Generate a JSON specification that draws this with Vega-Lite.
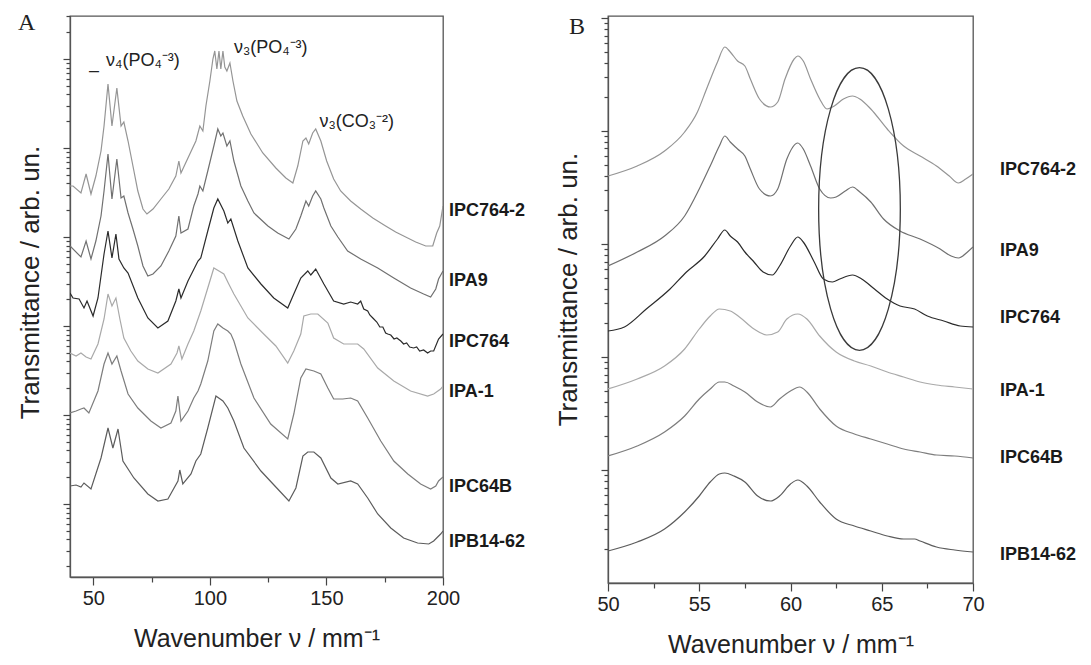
{
"$schema": "https://vega.github.io/schema/vega-lite/v6.json",
"padding": {"left": 16, "top": 10, "right": 5, "bottom": 5},
"spacing": 28,
"config": {
 "font": "Liberation Sans",
 "view": {"stroke": "#555", "strokeWidth": 1.3},
 "axis": {"grid": false, "domainColor": "#555", "domainWidth": 1.3, "tickColor": "#444", "tickWidth": 1.2, "labelColor": "#222", "labelFontSize": 20, "labelFont": "Liberation Sans", "titleColor": "#222", "titleFontSize": 25, "titleFontWeight": "normal", "titleFont": "Liberation Sans"},
 "text": {"color": "#222"}
},
"datasets": {
 "specA": [
{"s":"IPC764-2","w":40,"T":391},{"s":"IPC764-2","w":41.3,"T":391},{"s":"IPC764-2","w":44.7,"T":384},{"s":"IPC764-2","w":46.9,"T":403},{"s":"IPC764-2","w":49,"T":383},{"s":"IPC764-2","w":51.1,"T":401},{"s":"IPC764-2","w":53.3,"T":426},{"s":"IPC764-2","w":54.6,"T":451},{"s":"IPC764-2","w":56.3,"T":493},{"s":"IPC764-2","w":58,"T":451},{"s":"IPC764-2","w":60.1,"T":489},{"s":"IPC764-2","w":61.9,"T":451},{"s":"IPC764-2","w":63.1,"T":455},{"s":"IPC764-2","w":64.9,"T":436},{"s":"IPC764-2","w":67,"T":411},{"s":"IPC764-2","w":69.1,"T":386},{"s":"IPC764-2","w":71.3,"T":368},{"s":"IPC764-2","w":73,"T":363},{"s":"IPC764-2","w":75.6,"T":368},{"s":"IPC764-2","w":79,"T":378},{"s":"IPC764-2","w":82.4,"T":388},{"s":"IPC764-2","w":85.4,"T":401},{"s":"IPC764-2","w":86.7,"T":416},{"s":"IPC764-2","w":87.6,"T":404},{"s":"IPC764-2","w":91,"T":421},{"s":"IPC764-2","w":94,"T":436},{"s":"IPC764-2","w":95.7,"T":451},{"s":"IPC764-2","w":97,"T":446},{"s":"IPC764-2","w":98.3,"T":471},{"s":"IPC764-2","w":100,"T":496},{"s":"IPC764-2","w":101.3,"T":518},{"s":"IPC764-2","w":102.1,"T":526},{"s":"IPC764-2","w":103,"T":508},{"s":"IPC764-2","w":103.9,"T":526},{"s":"IPC764-2","w":104.7,"T":508},{"s":"IPC764-2","w":105.6,"T":526},{"s":"IPC764-2","w":106.4,"T":510},{"s":"IPC764-2","w":107.3,"T":506},{"s":"IPC764-2","w":108.6,"T":514},{"s":"IPC764-2","w":109.9,"T":496},{"s":"IPC764-2","w":111.6,"T":476},{"s":"IPC764-2","w":114.1,"T":461},{"s":"IPC764-2","w":117.6,"T":443},{"s":"IPC764-2","w":122.7,"T":424},{"s":"IPC764-2","w":128.3,"T":409},{"s":"IPC764-2","w":132.6,"T":399},{"s":"IPC764-2","w":135.6,"T":394},{"s":"IPC764-2","w":137.7,"T":411},{"s":"IPC764-2","w":139.9,"T":436},{"s":"IPC764-2","w":141.2,"T":439},{"s":"IPC764-2","w":142.4,"T":433},{"s":"IPC764-2","w":144.1,"T":444},{"s":"IPC764-2","w":145.4,"T":448},{"s":"IPC764-2","w":147.6,"T":436},{"s":"IPC764-2","w":150.1,"T":416},{"s":"IPC764-2","w":153.1,"T":398},{"s":"IPC764-2","w":156.1,"T":386},{"s":"IPC764-2","w":160.4,"T":376},{"s":"IPC764-2","w":164.7,"T":368},{"s":"IPC764-2","w":169.9,"T":359},{"s":"IPC764-2","w":175.4,"T":351},{"s":"IPC764-2","w":179.7,"T":345},{"s":"IPC764-2","w":184,"T":340},{"s":"IPC764-2","w":188.3,"T":335},{"s":"IPC764-2","w":192.6,"T":331},{"s":"IPC764-2","w":195.6,"T":331},{"s":"IPC764-2","w":197.3,"T":344},{"s":"IPC764-2","w":198.6,"T":351},{"s":"IPC764-2","w":200,"T":371},
{"s":"IPA9","w":40,"T":331},{"s":"IPA9","w":44.7,"T":320},{"s":"IPA9","w":46.9,"T":336},{"s":"IPA9","w":49,"T":318},{"s":"IPA9","w":51.1,"T":336},{"s":"IPA9","w":53.3,"T":361},{"s":"IPA9","w":54.6,"T":386},{"s":"IPA9","w":56.3,"T":423},{"s":"IPA9","w":58,"T":378},{"s":"IPA9","w":60.1,"T":418},{"s":"IPA9","w":61.9,"T":379},{"s":"IPA9","w":63.1,"T":381},{"s":"IPA9","w":64.9,"T":364},{"s":"IPA9","w":67,"T":348},{"s":"IPA9","w":69.1,"T":331},{"s":"IPA9","w":71.3,"T":311},{"s":"IPA9","w":73.4,"T":301},{"s":"IPA9","w":75.6,"T":303},{"s":"IPA9","w":79,"T":311},{"s":"IPA9","w":82.4,"T":326},{"s":"IPA9","w":85.4,"T":341},{"s":"IPA9","w":86.7,"T":361},{"s":"IPA9","w":87.6,"T":344},{"s":"IPA9","w":90.6,"T":348},{"s":"IPA9","w":93.1,"T":371},{"s":"IPA9","w":94.9,"T":383},{"s":"IPA9","w":95.7,"T":391},{"s":"IPA9","w":97,"T":386},{"s":"IPA9","w":99.1,"T":406},{"s":"IPA9","w":101.7,"T":431},{"s":"IPA9","w":103.4,"T":448},{"s":"IPA9","w":104.7,"T":441},{"s":"IPA9","w":105.6,"T":444},{"s":"IPA9","w":107.3,"T":431},{"s":"IPA9","w":108.6,"T":436},{"s":"IPA9","w":110.3,"T":416},{"s":"IPA9","w":113.3,"T":391},{"s":"IPA9","w":116.3,"T":376},{"s":"IPA9","w":118.9,"T":364},{"s":"IPA9","w":124.9,"T":351},{"s":"IPA9","w":129.1,"T":344},{"s":"IPA9","w":133.9,"T":338},{"s":"IPA9","w":136.9,"T":348},{"s":"IPA9","w":139,"T":361},{"s":"IPA9","w":141.2,"T":376},{"s":"IPA9","w":142.4,"T":371},{"s":"IPA9","w":144.1,"T":381},{"s":"IPA9","w":145.4,"T":386},{"s":"IPA9","w":147.6,"T":378},{"s":"IPA9","w":148.9,"T":369},{"s":"IPA9","w":151.9,"T":351},{"s":"IPA9","w":154.9,"T":340},{"s":"IPA9","w":159.1,"T":326},{"s":"IPA9","w":164.7,"T":318},{"s":"IPA9","w":172,"T":309},{"s":"IPA9","w":178.9,"T":299},{"s":"IPA9","w":186.1,"T":289},{"s":"IPA9","w":191.7,"T":283},{"s":"IPA9","w":194.7,"T":280},{"s":"IPA9","w":196.9,"T":288},{"s":"IPA9","w":198.1,"T":298},{"s":"IPA9","w":200,"T":306},
{"s":"IPC764","w":40,"T":284},{"s":"IPC764","w":41.3,"T":279},{"s":"IPC764","w":43.9,"T":278},{"s":"IPC764","w":46,"T":269},{"s":"IPC764","w":47.3,"T":276},{"s":"IPC764","w":49.9,"T":261},{"s":"IPC764","w":52,"T":279},{"s":"IPC764","w":54.6,"T":323},{"s":"IPC764","w":56.3,"T":346},{"s":"IPC764","w":58,"T":319},{"s":"IPC764","w":59.7,"T":343},{"s":"IPC764","w":61,"T":318},{"s":"IPC764","w":63.1,"T":309},{"s":"IPC764","w":64.9,"T":304},{"s":"IPC764","w":69.1,"T":279},{"s":"IPC764","w":73.4,"T":259},{"s":"IPC764","w":77.7,"T":249},{"s":"IPC764","w":82,"T":256},{"s":"IPC764","w":85.4,"T":276},{"s":"IPC764","w":86.7,"T":288},{"s":"IPC764","w":87.6,"T":279},{"s":"IPC764","w":90.6,"T":296},{"s":"IPC764","w":94.9,"T":316},{"s":"IPC764","w":96.1,"T":319},{"s":"IPC764","w":99.1,"T":346},{"s":"IPC764","w":101.7,"T":369},{"s":"IPC764","w":103.4,"T":378},{"s":"IPC764","w":106,"T":366},{"s":"IPC764","w":107.7,"T":354},{"s":"IPC764","w":109,"T":358},{"s":"IPC764","w":112,"T":336},{"s":"IPC764","w":116.3,"T":309},{"s":"IPC764","w":121.9,"T":293},{"s":"IPC764","w":127.4,"T":279},{"s":"IPC764","w":133.4,"T":269},{"s":"IPC764","w":136,"T":283},{"s":"IPC764","w":139,"T":299},{"s":"IPC764","w":142,"T":306},{"s":"IPC764","w":143.3,"T":302},{"s":"IPC764","w":145.4,"T":308},{"s":"IPC764","w":148.9,"T":293},{"s":"IPC764","w":153.1,"T":276},{"s":"IPC764","w":157.4,"T":273},{"s":"IPC764","w":160.4,"T":275},{"s":"IPC764","w":163.4,"T":273},{"s":"IPC764","w":164.7,"T":276},{"s":"IPC764","w":166,"T":268},{"s":"IPC764","w":167.7,"T":266},{"s":"IPC764","w":168.6,"T":262},{"s":"IPC764","w":169.9,"T":259},{"s":"IPC764","w":171.6,"T":255},{"s":"IPC764","w":172.9,"T":250},{"s":"IPC764","w":174.2,"T":250},{"s":"IPC764","w":175.4,"T":244},{"s":"IPC764","w":176.3,"T":243},{"s":"IPC764","w":177.6,"T":242},{"s":"IPC764","w":179,"T":238},{"s":"IPC764","w":180.2,"T":239},{"s":"IPC764","w":181.9,"T":236},{"s":"IPC764","w":183.1,"T":233},{"s":"IPC764","w":184.4,"T":234},{"s":"IPC764","w":185.7,"T":230},{"s":"IPC764","w":187.4,"T":229},{"s":"IPC764","w":188.7,"T":230},{"s":"IPC764","w":190,"T":226},{"s":"IPC764","w":191.7,"T":227},{"s":"IPC764","w":193.4,"T":224},{"s":"IPC764","w":194.7,"T":226},{"s":"IPC764","w":196,"T":226},{"s":"IPC764","w":198.1,"T":238},{"s":"IPC764","w":200,"T":243},
{"s":"IPA-1","w":40,"T":224},{"s":"IPA-1","w":42.6,"T":221},{"s":"IPA-1","w":44.7,"T":224},{"s":"IPA-1","w":46.9,"T":220},{"s":"IPA-1","w":49,"T":218},{"s":"IPA-1","w":52,"T":233},{"s":"IPA-1","w":54.6,"T":258},{"s":"IPA-1","w":56.3,"T":283},{"s":"IPA-1","w":58,"T":271},{"s":"IPA-1","w":59.7,"T":279},{"s":"IPA-1","w":61.4,"T":258},{"s":"IPA-1","w":63.1,"T":239},{"s":"IPA-1","w":66.1,"T":226},{"s":"IPA-1","w":69.1,"T":216},{"s":"IPA-1","w":73.4,"T":208},{"s":"IPA-1","w":77.7,"T":204},{"s":"IPA-1","w":83.3,"T":213},{"s":"IPA-1","w":85.9,"T":224},{"s":"IPA-1","w":86.7,"T":231},{"s":"IPA-1","w":88,"T":218},{"s":"IPA-1","w":90.6,"T":233},{"s":"IPA-1","w":93.1,"T":246},{"s":"IPA-1","w":96.1,"T":266},{"s":"IPA-1","w":99.1,"T":289},{"s":"IPA-1","w":101.7,"T":309},{"s":"IPA-1","w":103.9,"T":306},{"s":"IPA-1","w":106,"T":303},{"s":"IPA-1","w":108.1,"T":293},{"s":"IPA-1","w":110.3,"T":283},{"s":"IPA-1","w":116.3,"T":259},{"s":"IPA-1","w":123.1,"T":243},{"s":"IPA-1","w":128.3,"T":231},{"s":"IPA-1","w":133.4,"T":214},{"s":"IPA-1","w":136,"T":226},{"s":"IPA-1","w":139,"T":243},{"s":"IPA-1","w":140.3,"T":261},{"s":"IPA-1","w":143.3,"T":263},{"s":"IPA-1","w":146.3,"T":263},{"s":"IPA-1","w":150.6,"T":254},{"s":"IPA-1","w":153.1,"T":239},{"s":"IPA-1","w":157.4,"T":233},{"s":"IPA-1","w":163.4,"T":233},{"s":"IPA-1","w":166,"T":228},{"s":"IPA-1","w":172,"T":209},{"s":"IPA-1","w":178.9,"T":196},{"s":"IPA-1","w":186.1,"T":186},{"s":"IPA-1","w":193.4,"T":181},{"s":"IPA-1","w":196,"T":183},{"s":"IPA-1","w":199,"T":188},{"s":"IPA-1","w":200,"T":191},
{"s":"IPC64B","w":40,"T":164},{"s":"IPC64B","w":42.6,"T":166},{"s":"IPC64B","w":44.7,"T":168},{"s":"IPC64B","w":46,"T":169},{"s":"IPC64B","w":48.1,"T":164},{"s":"IPC64B","w":52,"T":186},{"s":"IPC64B","w":54.6,"T":213},{"s":"IPC64B","w":56.3,"T":224},{"s":"IPC64B","w":58,"T":213},{"s":"IPC64B","w":60.1,"T":221},{"s":"IPC64B","w":61.9,"T":206},{"s":"IPC64B","w":64.9,"T":183},{"s":"IPC64B","w":69.1,"T":169},{"s":"IPC64B","w":74.7,"T":156},{"s":"IPC64B","w":79,"T":149},{"s":"IPC64B","w":83.3,"T":154},{"s":"IPC64B","w":85.4,"T":166},{"s":"IPC64B","w":86.3,"T":181},{"s":"IPC64B","w":87.6,"T":156},{"s":"IPC64B","w":90.6,"T":166},{"s":"IPC64B","w":93.1,"T":179},{"s":"IPC64B","w":94.9,"T":186},{"s":"IPC64B","w":96.1,"T":193},{"s":"IPC64B","w":99.1,"T":216},{"s":"IPC64B","w":101.7,"T":246},{"s":"IPC64B","w":103.4,"T":253},{"s":"IPC64B","w":105.6,"T":249},{"s":"IPC64B","w":107.7,"T":246},{"s":"IPC64B","w":109,"T":243},{"s":"IPC64B","w":110.3,"T":236},{"s":"IPC64B","w":113.3,"T":213},{"s":"IPC64B","w":118.9,"T":179},{"s":"IPC64B","w":126.1,"T":153},{"s":"IPC64B","w":133.4,"T":138},{"s":"IPC64B","w":136,"T":163},{"s":"IPC64B","w":139,"T":199},{"s":"IPC64B","w":141.2,"T":208},{"s":"IPC64B","w":144.6,"T":206},{"s":"IPC64B","w":147.6,"T":203},{"s":"IPC64B","w":150.6,"T":189},{"s":"IPC64B","w":153.1,"T":178},{"s":"IPC64B","w":157,"T":178},{"s":"IPC64B","w":160.4,"T":179},{"s":"IPC64B","w":163.4,"T":176},{"s":"IPC64B","w":167.7,"T":159},{"s":"IPC64B","w":173.3,"T":136},{"s":"IPC64B","w":178.9,"T":116},{"s":"IPC64B","w":184.9,"T":103},{"s":"IPC64B","w":190.4,"T":93},{"s":"IPC64B","w":194.7,"T":88},{"s":"IPC64B","w":196.9,"T":91},{"s":"IPC64B","w":198.1,"T":96},{"s":"IPC64B","w":200,"T":100},
{"s":"IPB14-62","w":40,"T":91},{"s":"IPB14-62","w":42.6,"T":92},{"s":"IPB14-62","w":44.7,"T":90},{"s":"IPB14-62","w":46,"T":94},{"s":"IPB14-62","w":49,"T":88},{"s":"IPB14-62","w":53.3,"T":119},{"s":"IPB14-62","w":56.3,"T":149},{"s":"IPB14-62","w":58.4,"T":129},{"s":"IPB14-62","w":60.6,"T":148},{"s":"IPB14-62","w":62.7,"T":116},{"s":"IPB14-62","w":67.4,"T":99},{"s":"IPB14-62","w":73.4,"T":83},{"s":"IPB14-62","w":77.7,"T":76},{"s":"IPB14-62","w":82,"T":78},{"s":"IPB14-62","w":86.3,"T":96},{"s":"IPB14-62","w":87.1,"T":107},{"s":"IPB14-62","w":88.4,"T":93},{"s":"IPB14-62","w":91.9,"T":103},{"s":"IPB14-62","w":94,"T":116},{"s":"IPB14-62","w":96.1,"T":123},{"s":"IPB14-62","w":99.1,"T":149},{"s":"IPB14-62","w":102.6,"T":181},{"s":"IPB14-62","w":105.6,"T":176},{"s":"IPB14-62","w":107.7,"T":169},{"s":"IPB14-62","w":110.3,"T":156},{"s":"IPB14-62","w":114.6,"T":129},{"s":"IPB14-62","w":121.9,"T":106},{"s":"IPB14-62","w":129.1,"T":88},{"s":"IPB14-62","w":133.9,"T":76},{"s":"IPB14-62","w":136.9,"T":89},{"s":"IPB14-62","w":139.9,"T":121},{"s":"IPB14-62","w":142,"T":125},{"s":"IPB14-62","w":144.6,"T":125},{"s":"IPB14-62","w":147.6,"T":119},{"s":"IPB14-62","w":151.9,"T":99},{"s":"IPB14-62","w":154.9,"T":93},{"s":"IPB14-62","w":160.4,"T":96},{"s":"IPB14-62","w":163.4,"T":93},{"s":"IPB14-62","w":167.7,"T":79},{"s":"IPB14-62","w":172,"T":63},{"s":"IPB14-62","w":177.6,"T":49},{"s":"IPB14-62","w":183.1,"T":39},{"s":"IPB14-62","w":189.1,"T":34},{"s":"IPB14-62","w":193.9,"T":33},{"s":"IPB14-62","w":196,"T":36},{"s":"IPB14-62","w":199,"T":43},{"s":"IPB14-62","w":200,"T":46}
 ],
 "specB": [
{"s":"IPC764-2","w":50,"T":407},{"s":"IPC764-2","w":51.6,"T":417},{"s":"IPC764-2","w":53.1,"T":432},{"s":"IPC764-2","w":54.2,"T":451},{"s":"IPC764-2","w":54.9,"T":471},{"s":"IPC764-2","w":55.4,"T":494},{"s":"IPC764-2","w":56,"T":521},{"s":"IPC764-2","w":56.4,"T":536},{"s":"IPC764-2","w":56.7,"T":531},{"s":"IPC764-2","w":57.1,"T":522},{"s":"IPC764-2","w":57.5,"T":517},{"s":"IPC764-2","w":57.8,"T":504},{"s":"IPC764-2","w":58.3,"T":484},{"s":"IPC764-2","w":58.9,"T":476},{"s":"IPC764-2","w":59.3,"T":481},{"s":"IPC764-2","w":59.7,"T":504},{"s":"IPC764-2","w":60.2,"T":524},{"s":"IPC764-2","w":60.4,"T":527},{"s":"IPC764-2","w":60.7,"T":522},{"s":"IPC764-2","w":61.1,"T":504},{"s":"IPC764-2","w":61.6,"T":484},{"s":"IPC764-2","w":62,"T":474},{"s":"IPC764-2","w":62.4,"T":477},{"s":"IPC764-2","w":62.9,"T":484},{"s":"IPC764-2","w":63.4,"T":487},{"s":"IPC764-2","w":63.8,"T":484},{"s":"IPC764-2","w":64.4,"T":474},{"s":"IPC764-2","w":65.3,"T":454},{"s":"IPC764-2","w":66.2,"T":437},{"s":"IPC764-2","w":67.1,"T":427},{"s":"IPC764-2","w":68,"T":417},{"s":"IPC764-2","w":68.7,"T":407},{"s":"IPC764-2","w":69.2,"T":400},{"s":"IPC764-2","w":69.6,"T":404},{"s":"IPC764-2","w":70,"T":409},
{"s":"IPA9","w":50,"T":317},{"s":"IPA9","w":51.6,"T":331},{"s":"IPA9","w":53.1,"T":347},{"s":"IPA9","w":54.2,"T":367},{"s":"IPA9","w":55,"T":394},{"s":"IPA9","w":55.6,"T":417},{"s":"IPA9","w":56.1,"T":437},{"s":"IPA9","w":56.4,"T":447},{"s":"IPA9","w":56.7,"T":441},{"s":"IPA9","w":57.1,"T":434},{"s":"IPA9","w":57.5,"T":427},{"s":"IPA9","w":57.8,"T":414},{"s":"IPA9","w":58.3,"T":394},{"s":"IPA9","w":58.9,"T":387},{"s":"IPA9","w":59.3,"T":394},{"s":"IPA9","w":59.8,"T":424},{"s":"IPA9","w":60.4,"T":440},{"s":"IPA9","w":60.7,"T":434},{"s":"IPA9","w":61.1,"T":417},{"s":"IPA9","w":61.6,"T":394},{"s":"IPA9","w":62.2,"T":385},{"s":"IPA9","w":62.5,"T":386},{"s":"IPA9","w":63,"T":392},{"s":"IPA9","w":63.4,"T":396},{"s":"IPA9","w":63.8,"T":391},{"s":"IPA9","w":64.4,"T":381},{"s":"IPA9","w":65.1,"T":364},{"s":"IPA9","w":66,"T":352},{"s":"IPA9","w":67.1,"T":344},{"s":"IPA9","w":68.2,"T":334},{"s":"IPA9","w":68.8,"T":327},{"s":"IPA9","w":69.2,"T":325},{"s":"IPA9","w":69.7,"T":331},{"s":"IPA9","w":70,"T":336},
{"s":"IPC764","w":50,"T":252},{"s":"IPC764","w":50.9,"T":256},{"s":"IPC764","w":52.1,"T":274},{"s":"IPC764","w":53.4,"T":294},{"s":"IPC764","w":54.3,"T":311},{"s":"IPC764","w":55.3,"T":327},{"s":"IPC764","w":56,"T":344},{"s":"IPC764","w":56.4,"T":353},{"s":"IPC764","w":56.7,"T":347},{"s":"IPC764","w":57.1,"T":341},{"s":"IPC764","w":57.5,"T":331},{"s":"IPC764","w":58,"T":321},{"s":"IPC764","w":58.5,"T":311},{"s":"IPC764","w":59,"T":308},{"s":"IPC764","w":59.4,"T":317},{"s":"IPC764","w":60,"T":337},{"s":"IPC764","w":60.4,"T":346},{"s":"IPC764","w":60.7,"T":341},{"s":"IPC764","w":61.3,"T":321},{"s":"IPC764","w":61.8,"T":304},{"s":"IPC764","w":62.3,"T":301},{"s":"IPC764","w":62.7,"T":304},{"s":"IPC764","w":63.4,"T":308},{"s":"IPC764","w":63.9,"T":304},{"s":"IPC764","w":64.6,"T":294},{"s":"IPC764","w":65.3,"T":284},{"s":"IPC764","w":66,"T":277},{"s":"IPC764","w":66.8,"T":274},{"s":"IPC764","w":67.5,"T":267},{"s":"IPC764","w":68.4,"T":262},{"s":"IPC764","w":69.3,"T":257},{"s":"IPC764","w":70,"T":256},
{"s":"IPA-1","w":50,"T":194},{"s":"IPA-1","w":51.6,"T":204},{"s":"IPA-1","w":53.1,"T":217},{"s":"IPA-1","w":54.2,"T":234},{"s":"IPA-1","w":55,"T":254},{"s":"IPA-1","w":55.6,"T":267},{"s":"IPA-1","w":56.1,"T":274},{"s":"IPA-1","w":56.7,"T":272},{"s":"IPA-1","w":57.2,"T":266},{"s":"IPA-1","w":58,"T":254},{"s":"IPA-1","w":58.7,"T":248},{"s":"IPA-1","w":59.3,"T":251},{"s":"IPA-1","w":59.8,"T":264},{"s":"IPA-1","w":60.4,"T":269},{"s":"IPA-1","w":60.9,"T":264},{"s":"IPA-1","w":61.6,"T":247},{"s":"IPA-1","w":62.5,"T":231},{"s":"IPA-1","w":63.5,"T":222},{"s":"IPA-1","w":64.4,"T":217},{"s":"IPA-1","w":65.3,"T":211},{"s":"IPA-1","w":66.2,"T":206},{"s":"IPA-1","w":67.1,"T":201},{"s":"IPA-1","w":68,"T":198},{"s":"IPA-1","w":69,"T":196},{"s":"IPA-1","w":70,"T":194},
{"s":"IPC64B","w":50,"T":127},{"s":"IPC64B","w":51.6,"T":137},{"s":"IPC64B","w":53.1,"T":151},{"s":"IPC64B","w":54.2,"T":167},{"s":"IPC64B","w":55,"T":184},{"s":"IPC64B","w":55.6,"T":194},{"s":"IPC64B","w":56.1,"T":201},{"s":"IPC64B","w":56.4,"T":201},{"s":"IPC64B","w":56.9,"T":197},{"s":"IPC64B","w":57.5,"T":191},{"s":"IPC64B","w":58.2,"T":181},{"s":"IPC64B","w":58.9,"T":176},{"s":"IPC64B","w":59.4,"T":184},{"s":"IPC64B","w":60,"T":192},{"s":"IPC64B","w":60.5,"T":196},{"s":"IPC64B","w":60.9,"T":191},{"s":"IPC64B","w":61.6,"T":174},{"s":"IPC64B","w":62.5,"T":157},{"s":"IPC64B","w":63.5,"T":149},{"s":"IPC64B","w":64.4,"T":144},{"s":"IPC64B","w":65.3,"T":139},{"s":"IPC64B","w":66.2,"T":134},{"s":"IPC64B","w":67.1,"T":131},{"s":"IPC64B","w":68,"T":128},{"s":"IPC64B","w":69,"T":127},{"s":"IPC64B","w":70,"T":125},
{"s":"IPB14-62","w":50,"T":32},{"s":"IPB14-62","w":51.6,"T":41},{"s":"IPB14-62","w":53.1,"T":54},{"s":"IPB14-62","w":54.2,"T":71},{"s":"IPB14-62","w":55,"T":87},{"s":"IPB14-62","w":55.6,"T":101},{"s":"IPB14-62","w":56.1,"T":109},{"s":"IPB14-62","w":56.4,"T":110},{"s":"IPB14-62","w":56.9,"T":107},{"s":"IPB14-62","w":57.5,"T":101},{"s":"IPB14-62","w":58.2,"T":87},{"s":"IPB14-62","w":58.9,"T":82},{"s":"IPB14-62","w":59.4,"T":87},{"s":"IPB14-62","w":60,"T":99},{"s":"IPB14-62","w":60.4,"T":103},{"s":"IPB14-62","w":60.9,"T":97},{"s":"IPB14-62","w":61.6,"T":81},{"s":"IPB14-62","w":62.5,"T":64},{"s":"IPB14-62","w":63.5,"T":57},{"s":"IPB14-62","w":64.4,"T":52},{"s":"IPB14-62","w":65.3,"T":47},{"s":"IPB14-62","w":66.2,"T":44},{"s":"IPB14-62","w":66.8,"T":44},{"s":"IPB14-62","w":67.1,"T":42},{"s":"IPB14-62","w":68,"T":36},{"s":"IPB14-62","w":69,"T":33},{"s":"IPB14-62","w":70,"T":31}
 ],
 "labelsA": [{"s":"IPC764-2","w":200,"T":366},{"s":"IPA9","w":200,"T":296},{"s":"IPC764","w":200,"T":235},{"s":"IPA-1","w":200,"T":185},{"s":"IPC64B","w":200,"T":90},{"s":"IPB14-62","w":200,"T":35}],
 "labelsB": [{"s":"IPC764-2","w":70,"T":413},{"s":"IPA9","w":70,"T":332},{"s":"IPC764","w":70,"T":265},{"s":"IPA-1","w":70,"T":192},{"s":"IPC64B","w":70,"T":125},{"s":"IPB14-62","w":70,"T":28}],
 "notesA": [{"t":"ν₄(PO₄⁻³)","w":71.3,"T":516},{"t":"ν₃(PO₄⁻³)","w":126.1,"T":529},{"t":"ν₃(CO₃⁻²)","w":163,"T":455},{"t":"–","w":50.3,"T":506}],
 "panelA": [{"t":"A","w":40,"T":561}],
 "panelB": [{"t":"B","w":50,"T":567}],
 "ellipseB": [{"w":63.78,"T":374}]
},
"hconcat": [
 {
  "width": 373, "height": 561,
  "encoding": {
   "x": {"field": "w", "type": "quantitative", "scale": {"domain": [40, 200], "nice": false, "zero": false},
     "axis": {"title": "Wavenumber ν / mm⁻¹", "values": [50, 75, 100, 125, 150, 175, 200], "tickCount": 50, "labelExpr": "datum.value % 50 == 0 ? datum.label : ''", "tickSize": {"condition": {"test": "datum.value % 50 == 0", "value": 8}, "value": 5}, "labelPadding": 3, "titlePadding": 18, "labelFlush": false}},
   "y": {"field": "T", "type": "quantitative", "scale": {"domain": [0, 561], "nice": false, "zero": false},
     "axis": {"title": "Transmittance / arb. un.", "titleFontSize": 26, "labels": false, "titlePadding": 19, "titleY": 266, "tickCount": 200,
      "values": [10.8,26.5,37.6,46.2,53.3,59.2,64.4,68.9,73,99.8,115.5,126.6,135.2,142.3,148.2,153.4,157.9,162,188.8,204.5,215.6,224.2,231.3,237.2,242.4,246.9,251,277.8,293.5,304.6,313.2,320.3,326.2,331.4,335.9,340,366.8,382.5,393.6,402.2,409.3,415.2,420.4,424.9,429,455.8,471.5,482.6,491.2,498.3,504.2,509.4,513.9,518,544.8,560.5],
      "tickSize": {"condition": {"test": "indexof([73,162,251,340,429,518], datum.value) >= 0", "value": 7}, "value": 4}}}
  },
  "layer": [
   {"data": {"name": "specA"},
    "mark": {"type": "line", "strokeWidth": 1.2, "clip": true},
    "encoding": {
     "color": {"field": "s", "type": "nominal", "legend": null,
       "scale": {"domain": ["IPC764-2", "IPA9", "IPC764", "IPA-1", "IPC64B", "IPB14-62"], "range": ["#959595", "#707070", "#2b2b2b", "#a9a9a9", "#7d7d7d", "#5c5c5c"]}}
    }},
   {"data": {"name": "labelsA"},
    "mark": {"type": "text", "align": "left", "baseline": "middle", "dx": 6, "fontSize": 18, "fontWeight": "bold", "color": "#1a1a1a"},
    "encoding": {"text": {"field": "s"}}},
   {"data": {"name": "notesA"},
    "mark": {"type": "text", "align": "center", "baseline": "middle", "fontSize": 18, "color": "#222"},
    "encoding": {"text": {"field": "t"}}},
   {"data": {"name": "panelA"},
    "mark": {"type": "text", "align": "left", "baseline": "alphabetic", "dx": -52, "dy": 14, "fontSize": 24, "font": "Liberation Serif", "color": "#222"},
    "encoding": {"text": {"field": "t"}}}
  ]
 },
 {
  "width": 365, "height": 567,
  "encoding": {
   "x": {"field": "w", "type": "quantitative", "scale": {"domain": [50, 70], "nice": false, "zero": false},
     "axis": {"title": "Wavenumber ν / mm⁻¹", "values": [50, 52.5, 55, 57.5, 60, 62.5, 65, 67.5, 70], "tickCount": 50, "labelExpr": "datum.value % 5 == 0 ? format(datum.value, 'd') : ''", "tickSize": {"condition": {"test": "datum.value % 5 == 0", "value": 8}, "value": 5}, "labelPadding": 3, "titlePadding": 18, "labelFlush": false}},
   "y": {"field": "T", "type": "quantitative", "scale": {"domain": [0, 567], "nice": false, "zero": false},
     "axis": {"title": "Transmittance / arb. un.", "titleFontSize": 26, "labels": false, "titlePadding": 19, "titleY": 273, "tickCount": 200,
      "values": [34,53.9,68,79,87.9,95.5,102,107.8,113,147,166.9,181,192,200.9,208.5,215,220.8,226,260,279.9,294,305,313.9,321.5,328,333.8,339,373,392.9,407,418,426.9,434.5,441,446.8,452,486,505.9,520,531,539.9,547.5,554,559.8,565],
      "tickSize": {"condition": {"test": "indexof([113,226,339,452,565], datum.value) >= 0", "value": 7}, "value": 4}}}
  },
  "layer": [
   {"data": {"name": "specB"},
    "mark": {"type": "line", "strokeWidth": 1.2, "interpolate": "monotone", "clip": true},
    "encoding": {
     "color": {"field": "s", "type": "nominal", "legend": null,
       "scale": {"domain": ["IPC764-2", "IPA9", "IPC764", "IPA-1", "IPC64B", "IPB14-62"], "range": ["#959595", "#707070", "#2b2b2b", "#a9a9a9", "#7d7d7d", "#5c5c5c"]}}
    }},
   {"data": {"name": "ellipseB"},
    "mark": {"type": "point", "shape": "M -0.289 0 A 0.289 1 0 1 1 0.289 0 A 0.289 1 0 1 1 -0.289 0 Z", "size": 79863, "filled": false, "stroke": "#3a3a3a", "strokeWidth": 1.3, "opacity": 1}},
   {"data": {"name": "labelsB"},
    "mark": {"type": "text", "align": "left", "baseline": "middle", "dx": 27, "fontSize": 18, "fontWeight": "bold", "color": "#1a1a1a"},
    "encoding": {"text": {"field": "s"}}},
   {"data": {"name": "panelB"},
    "mark": {"type": "text", "align": "left", "baseline": "alphabetic", "dx": -39, "dy": 18, "fontSize": 24, "font": "Liberation Serif", "color": "#222"},
    "encoding": {"text": {"field": "t"}}}
  ]
 }
]
}
